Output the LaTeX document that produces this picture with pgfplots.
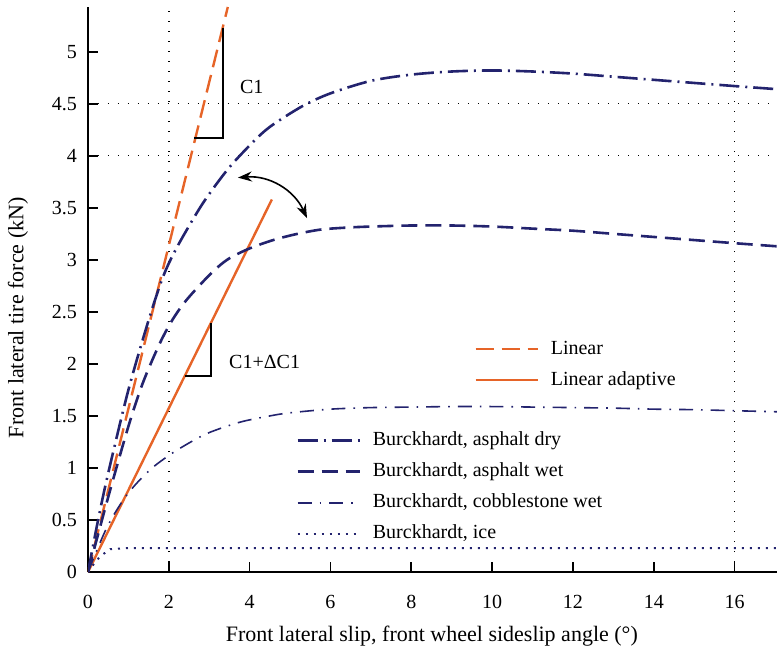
\documentclass[border=0pt]{standalone}
\usepackage{fontspec}
\setmainfont{Liberation Serif}
\usepackage{pgfplots}
\pgfplotsset{compat=1.18}
\usetikzlibrary{arrows.meta}
\definecolor{lorange}{RGB}{230,100,40}
\definecolor{bnavy}{RGB}{35,35,110}
\begin{document}
\begin{tikzpicture}
\pgfplotsset{
  common/.style={scale only axis, width=344.5pt, height=282.5pt,
    xmin=0, xmax=17.05, ymin=0, ymax=5.43},
  legimg/.style={legend image code/.code={\draw[##1] (0pt,0pt) -- (31pt,0pt);}},
}
\begin{axis}[common, name=main,
  axis x line*=bottom, axis y line*=left,
  axis line style={-, line width=0.8pt},
  tick align=inside, major tick length=5pt, tick style={black, line width=0.8pt},
  xtick={0,2,...,16}, ytick={0,0.5,1,1.5,2,2.5,3,3.5,4,4.5,5},
  yticklabels={0,0.5,1,1.5,2,2.5,3,3.5,4,4.5,5},
  extra x ticks={2,16}, extra x tick labels={},
  extra y ticks={4,4.5}, extra y tick labels={},
  extra tick style={grid=major, major grid style={black, line width=0.7pt, dash pattern=on 0.7pt off 4.3pt}},
  /pgf/number format/assume math mode=true,
  tick label style={font=\fontsize{10}{12}\selectfont},
  xticklabel style={yshift=-8pt},
  yticklabel style={xshift=-2pt},
  every axis x label/.style={at={(axis description cs:0.499,-0.1133)}, anchor=center, font=\fontsize{11}{13}\selectfont},
  every axis y label/.style={at={(axis description cs:-0.1016,0.45)}, rotate=90, anchor=center, font=\fontsize{11}{13}\selectfont},
  xlabel={Front lateral slip, front wheel sideslip angle (°)},
  ylabel={Front lateral tire force (kN)},
  legimg,
  legend cell align=left,
  legend style={at={(0.5515,0.418)}, anchor=north west, draw=none, fill=none,
    font=\fontsize{10}{12}\selectfont, row sep=6.5pt,
    nodes={inner sep=0pt, text height=7pt, text depth=2pt},
    /tikz/every odd column/.append style={column sep=6pt}},
]
\addplot[lorange, line width=1.2pt, dash pattern=on 9pt off 4pt] coordinates {(0,0) (3.46,5.43)};
\addlegendentry{Linear}
\addplot[lorange, line width=1.2pt] coordinates {(0,0) (4.55,3.58)};
\addlegendentry{Linear adaptive}
\draw[black, line width=0.8pt] (axis cs:2.62,4.17) -- (axis cs:3.34,4.17) -- (axis cs:3.34,5.23);
\draw[black, line width=0.8pt] (axis cs:2.40,1.885) -- (axis cs:3.04,1.885) -- (axis cs:3.04,2.39);
\node[anchor=west, font=\fontsize{10}{12}\selectfont] at (axis cs:3.59,4.66) {C1};
\node[anchor=west, font=\fontsize{10}{12}\selectfont] at (axis cs:3.32,2.02) {C1+ΔC1};
\draw[{Stealth[length=7pt,width=5pt]}-{Stealth[length=7pt,width=5pt]}, line width=0.8pt] (axis cs:3.71,3.79) to[bend left=35] (axis cs:5.42,3.40);
\end{axis}
\begin{axis}[common, at={(main.south west)}, anchor=south west, hide axis,
  legimg,
  legend cell align=left,
  legend style={at={(0.293,0.256)}, anchor=north west, draw=none, fill=none,
    font=\fontsize{10}{12}\selectfont, row sep=6.5pt,
    nodes={inner sep=0pt, text height=7pt, text depth=2pt},
    /tikz/every odd column/.append style={column sep=6pt}},
]
\addplot[bnavy, line width=1.3pt, smooth, dash pattern=on 10pt off 3pt on 1pt off 3pt] coordinates {
(0,0) (0.25,0.5) (0.5,0.95) (1,1.75) (1.5,2.42) (1.86,2.84) (2.2,3.12) (2.77,3.5) (3.2,3.74) (3.59,3.93) (4.18,4.17) (4.58,4.3) (5.32,4.48) (6,4.6) (7,4.72) (8,4.78) (9,4.81) (10,4.82) (11,4.81) (12,4.79) (13,4.76) (14,4.73) (15,4.70) (16,4.67) (17.05,4.64)};
\addlegendentry{Burckhardt, asphalt dry}
\addplot[bnavy, line width=1.3pt, smooth, dash pattern=on 8pt off 4pt] coordinates {
(0,0) (0.5,0.72) (1,1.4) (1.36,1.82) (1.78,2.2) (2.1,2.43) (2.45,2.62) (3.02,2.86) (3.44,3.0) (3.94,3.10) (4.5,3.18) (5.07,3.24) (5.74,3.29) (6.41,3.31) (7,3.32) (8,3.33) (9,3.33) (10,3.32) (11,3.30) (12,3.28) (13,3.25) (14,3.22) (15,3.19) (16,3.16) (17.05,3.13)};
\addlegendentry{Burckhardt, asphalt wet}
\addplot[bnavy, line width=0.8pt, smooth, dash pattern=on 7pt off 4pt on 0.8pt off 4pt] coordinates {
(0,0) (0.47,0.43) (0.96,0.74) (1.5,0.97) (2,1.12) (2.5,1.24) (3,1.34) (3.76,1.44) (4.5,1.5) (5,1.53) (6,1.565) (7,1.58) (8,1.585) (9,1.59) (10,1.59) (11,1.585) (12,1.58) (13,1.575) (14,1.565) (15,1.56) (16,1.55) (17.05,1.54)};
\addlegendentry{Burckhardt, cobblestone wet}
\addplot[bnavy, line width=1pt, dash pattern=on 1pt off 3pt] coordinates {
(0,0) (0.15,0.08) (0.3,0.15) (0.55,0.22) (1,0.23) (4,0.23) (8,0.23) (12,0.23) (17.05,0.23)};
\addlegendentry{Burckhardt, ice}
\end{axis}
\pgfresetboundingbox
\path ([shift={(-44pt,-41pt)}]main.south west) rectangle ([shift={(0pt,3.5pt)}]main.north east);
\end{tikzpicture}
\end{document}
